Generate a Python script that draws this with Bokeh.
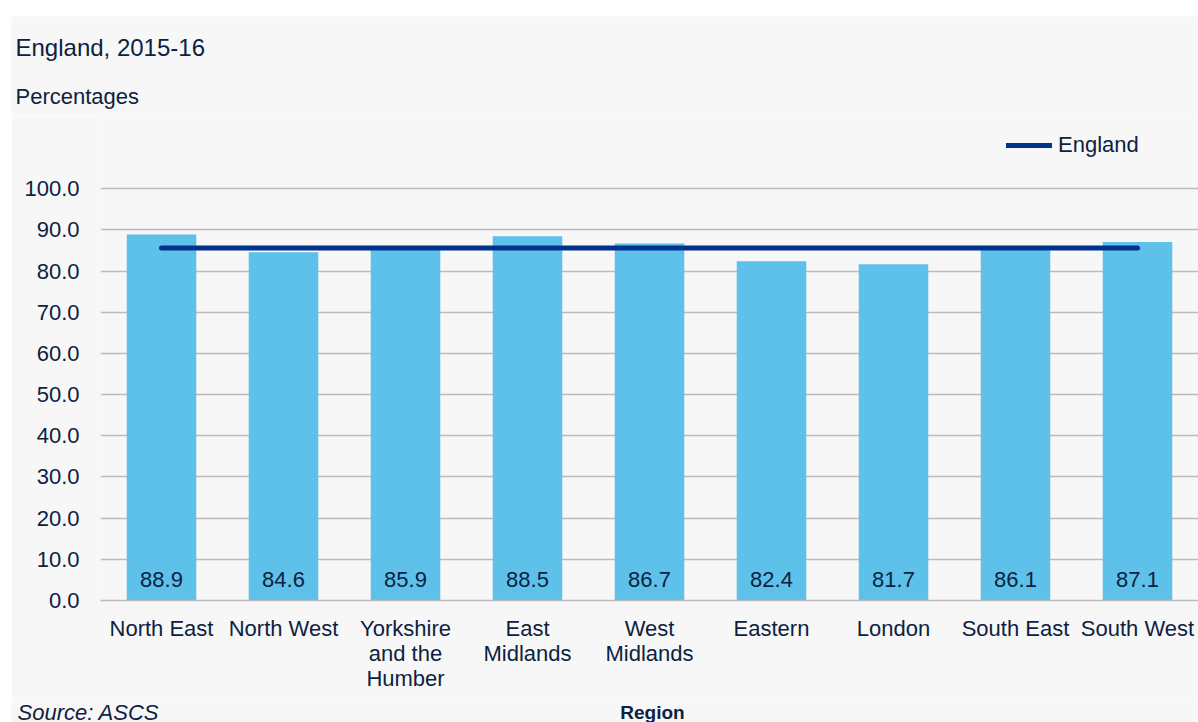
from bokeh.plotting import figure
from bokeh.layouts import column
from bokeh.models import (ColumnDataSource, Legend, LegendItem, FixedTicker,
                          NumeralTickFormatter, Range1d, FactorRange)
from bokeh.core.properties import value
from bokeh.embed import file_html
from bokeh.resources import INLINE

# ---- data ----
regions = ["North East", "North West", "Yorkshire\nand the\nHumber", "East\nMidlands",
           "West\nMidlands", "Eastern", "London", "South East", "South West"]
values = [88.9, 84.6, 85.9, 88.5, 86.7, 82.4, 81.7, 86.1, 87.1]
england = 85.6
y_ticks = [0, 10, 20, 30, 40, 50, 60, 70, 80, 90, 100]

title_text = "England, 2015-16"
subtitle_text = "Percentages"
source_text = "Source: ASCS"
x_label = "Region"
legend_label = "England"

# ---- styles ----
BG = "#f7f7f7"
BAR = "#5ec1ea"
LINE = "#00338d"
TXT = "#0d2240"
GRID = "#bdb9bf"
FONT = "Liberation Sans"
W = 1187


def strip(h):
    f = figure(width=W, height=h, x_range=Range1d(0, W), y_range=Range1d(h, 0),
               x_axis_type=None, y_axis_type=None, output_backend="svg",
               toolbar_location=None, background_fill_color=BG, border_fill_color=BG,
               outline_line_color=None, min_border=0)
    f.frame_align = False
    f.xgrid.visible = False
    f.ygrid.visible = False
    return f


# ---- top strip: title and subtitle ----
top = strip(100)
top.text(x=[4], y=[31], text=[title_text], text_font=value(FONT), text_font_size="24px",
         text_color=TXT, text_baseline="alphabetic")
top.text(x=[4], y=[80], text=[subtitle_text], text_font=value(FONT), text_font_size="22px",
         text_color=TXT, text_baseline="alphabetic")

# ---- main chart ----
src = ColumnDataSource(dict(region=regions, value=values,
                            label=[f"{v:.1f}" for v in values]))

p = figure(x_range=FactorRange(*regions, range_padding=0), y_range=Range1d(0, 117.56),
           frame_width=1098, frame_height=484,
           min_border_left=89, min_border_right=0, min_border_top=0, min_border_bottom=100,
           output_backend="svg", toolbar_location=None,
           background_fill_color=BG, border_fill_color=BG, outline_line_color=None)
p.frame_align = False

p.vbar(x="region", top="value", width=0.57, source=src, fill_color=BAR, line_color=None)
p.text(x="region", y=0, text="label", source=src, y_offset=-21,
       text_align="center", text_baseline="middle", text_font_size="22px",
       text_color=TXT, text_font=value(FONT))

eng = p.line(x=[regions[0], regions[-1]], y=[england, england], line_color=LINE,
             line_width=5, line_cap="round")

# axes
p.yaxis.ticker = FixedTicker(ticks=y_ticks)
p.yaxis.formatter = NumeralTickFormatter(format="0.0")
p.yaxis.axis_line_color = None
p.yaxis.major_tick_line_color = None
p.yaxis.minor_tick_line_color = None
p.yaxis.major_label_standoff = 15
p.yaxis.major_label_text_font_size = "22px"
p.yaxis.major_label_text_color = TXT
p.yaxis.major_label_text_font = FONT

p.xaxis.axis_line_color = GRID
p.xaxis.axis_line_width = 1.5
p.xaxis.major_tick_line_color = None
p.xaxis.major_label_standoff = 9
p.xaxis.major_label_text_font_size = "22px"
p.xaxis.major_label_text_line_height = 1.0
p.xaxis.major_label_text_color = TXT
p.xaxis.major_label_text_font = FONT

p.xgrid.grid_line_color = None
p.ygrid.grid_line_color = GRID
p.ygrid.grid_line_width = 1.5

legend = Legend(items=[LegendItem(label=legend_label, renderers=[eng])],
                location=(906, 442), padding=0, margin=0, border_line_color=None,
                background_fill_alpha=0, glyph_width=46, glyph_height=24, label_height=24,
                label_standoff=6, label_text_font_size="22px", label_text_color=TXT,
                label_text_font=FONT)
p.add_layout(legend)

# ---- bottom strip: source and axis title ----
bot = strip(22)
bot.text(x=[6], y=[12], text=[source_text], text_font=value(FONT), text_font_size="22px",
         text_font_style="italic", text_color=TXT, text_baseline="alphabetic")
bot.text(x=[641], y=[12], text=[x_label], text_font=value(FONT), text_font_size="19px",
         text_font_style="bold", text_color=TXT, text_baseline="alphabetic",
         text_align="center")

layout = column(top, p, bot, spacing=0)
layout.margin = (16, 0, 0, 11)

open("out.html", "w").write(file_html(layout, INLINE))
